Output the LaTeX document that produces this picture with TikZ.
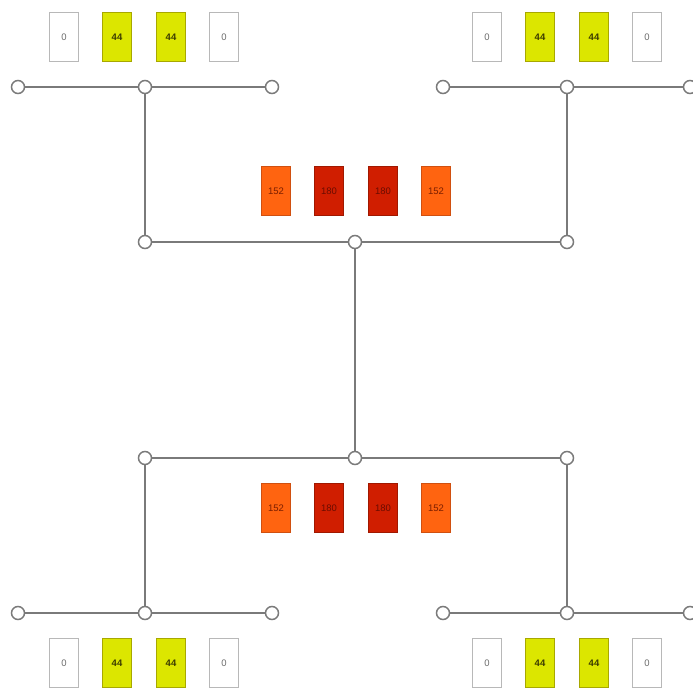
\documentclass[tikz,border=0pt]{standalone}
\usepackage{fontspec}
\setmainfont{Liberation Sans}
\definecolor{linegray}{HTML}{7A7A7A}
\definecolor{boxgray}{HTML}{B8B8B8}
\definecolor{yel}{HTML}{DCE600}
\definecolor{yelb}{HTML}{A8A800}
\definecolor{yelt}{HTML}{3C3C00}
\definecolor{org}{HTML}{FF6410}
\definecolor{orgb}{HTML}{D05010}
\definecolor{orgt}{HTML}{7A1E00}
\definecolor{dred}{HTML}{D01E00}
\definecolor{dredb}{HTML}{A01800}
\definecolor{dredt}{HTML}{6A0C00}
\tikzset{
  dot/.style={circle,draw=linegray,fill=white,line width=1.5pt,minimum size=13pt,inner sep=0pt},
  wire/.style={draw=linegray,line width=2pt},
  cell/.style={rectangle,minimum width=29pt,minimum height=49pt,inner sep=0pt,line width=0.9pt,font=\fontsize{9.5}{11}\selectfont},
  zerocell/.style={cell,draw=boxgray,fill=white,text=gray!85!black},
  yelcell/.style={cell,draw=yelb,fill=yel,text=yelt,font=\fontsize{9.5}{11}\selectfont\bfseries},
  orgcell/.style={cell,draw=orgb,fill=org,text=orgt},
  redcell/.style={cell,draw=dredb,fill=dred,text=dredt},
}
\begin{document}
\begin{tikzpicture}[x=1pt,y=-1pt]
\useasboundingbox (0,0) rectangle (693,693);
% top-left group
\node[dot] (tl1) at (18,87) {};
\node[dot] (tl2) at (145,87) {};
\node[dot] (tl3) at (272,87) {};
% top-right group
\node[dot] (tr1) at (443,87) {};
\node[dot] (tr2) at (567,87) {};
\node[dot] (tr3) at (690,87) {};
% upper middle
\node[dot] (um1) at (145,242) {};
\node[dot] (um2) at (355,242) {};
\node[dot] (um3) at (567,242) {};
% lower middle
\node[dot] (lm1) at (145,458) {};
\node[dot] (lm2) at (355,458) {};
\node[dot] (lm3) at (567,458) {};
% bottom-left
\node[dot] (bl1) at (18,613) {};
\node[dot] (bl2) at (145,613) {};
\node[dot] (bl3) at (272,613) {};
% bottom-right
\node[dot] (br1) at (443,613) {};
\node[dot] (br2) at (567,613) {};
\node[dot] (br3) at (690,613) {};
% wires
\path[wire] (tl1) -- (tl2) -- (tl3);
\path[wire] (tr1) -- (tr2) -- (tr3);
\path[wire] (tl2) -- (um1);
\path[wire] (tr2) -- (um3);
\path[wire] (um1) -- (um2) -- (um3);
\path[wire] (um2) -- (lm2);
\path[wire] (lm1) -- (lm2) -- (lm3);
\path[wire] (lm1) -- (bl2);
\path[wire] (lm3) -- (br2);
\path[wire] (bl1) -- (bl2) -- (bl3);
\path[wire] (br1) -- (br2) -- (br3);
% cells top-left
\node[zerocell] (a1) at (64,37) {0};
\node[yelcell] (a2) at (117,37) {44};
\node[yelcell] (a3) at (171,37) {44};
\node[zerocell] (a4) at (224,37) {0};
% cells top-right
\node[zerocell] (b1) at (487,37) {0};
\node[yelcell] (b2) at (540,37) {44};
\node[yelcell] (b3) at (594,37) {44};
\node[zerocell] (b4) at (647,37) {0};
% cells upper middle
\node[orgcell] (c1) at (276,191) {152};
\node[redcell] (c2) at (329,191) {180};
\node[redcell] (c3) at (383,191) {180};
\node[orgcell] (c4) at (436,191) {152};
% cells lower middle
\node[orgcell] (d1) at (276,508) {152};
\node[redcell] (d2) at (329,508) {180};
\node[redcell] (d3) at (383,508) {180};
\node[orgcell] (d4) at (436,508) {152};
% cells bottom-left
\node[zerocell] (e1) at (64,663) {0};
\node[yelcell] (e2) at (117,663) {44};
\node[yelcell] (e3) at (171,663) {44};
\node[zerocell] (e4) at (224,663) {0};
% cells bottom-right
\node[zerocell] (f1) at (487,663) {0};
\node[yelcell] (f2) at (540,663) {44};
\node[yelcell] (f3) at (594,663) {44};
\node[zerocell] (f4) at (647,663) {0};
\end{tikzpicture}
\end{document}
